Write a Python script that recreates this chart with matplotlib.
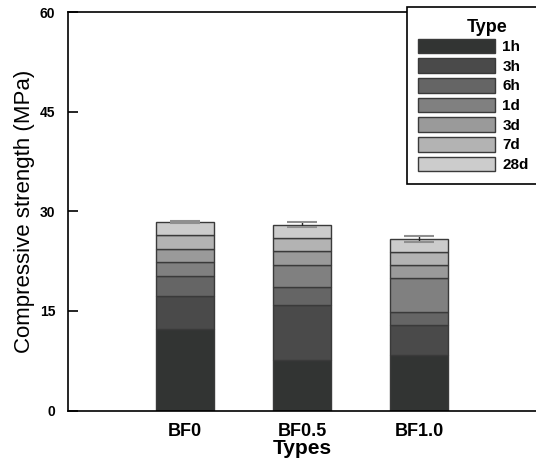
import matplotlib
matplotlib.use("Agg")
import matplotlib.pyplot as plt
import numpy as np

plt.rcParams['font.family'] = ['Liberation Sans', 'DejaVu Sans']

# data
types = ["BF0", "BF0.5", "BF1.0"]
ages = ["1h", "3h", "6h", "1d", "3d", "7d", "28d"]
# strength gained in each age interval (MPa), stacked
seg_1h = [12.3, 7.6, 8.3]
seg_3h = [4.9, 8.3, 4.5]
seg_6h = [3.1, 2.7, 2.0]
seg_1d = [2.0, 3.3, 5.1]
seg_3d = [2.0, 2.05, 2.0]
seg_7d = [2.05, 2.0, 1.95]
seg_28d = [2.05, 2.05, 1.95]
err_28d = [0.1, 0.35, 0.5]

colors = ["#323433", "#4a4a4a", "#656565", "#808080", "#9a9a9a", "#b3b3b3", "#cccccc"]

W, H = 536, 461
fig = plt.figure(figsize=(W / 100, H / 100), dpi=100)
ax = fig.add_axes([68 / W, 1 - 410.5 / H, (W - 68) / W, (410.5 - 12) / H])

x = np.arange(1, len(types) + 1)
segments = [seg_1h, seg_3h, seg_6h, seg_1d, seg_3d, seg_7d, seg_28d]
bottom = np.zeros(len(types))
for age, seg, col in zip(ages, segments, colors):
    ax.bar(x, seg, width=0.5, bottom=bottom, color=col,
           edgecolor="#3a3a3a", linewidth=1.0, label=age, zorder=2)
    bottom = bottom + np.array(seg)

eb = ax.errorbar(x, bottom, yerr=err_28d, fmt="none", ecolor="#222222",
                 elinewidth=1.0, capsize=11, capthick=1.5, zorder=3)
for cap in eb[1]:
    cap.set_markeredgecolor("#8f8f8f")

ax.set_xlim(0, 4)
ax.set_ylim(0, 60)
ax.set_xticks(x, labels=types)
ax.set_yticks([0, 15, 30, 45, 60])
ax.tick_params(axis="x", length=0, pad=9, labelsize=13)
ax.tick_params(axis="y", direction="in", length=7, width=1.2, pad=9, labelsize=10)
for lab in ax.get_xticklabels() + ax.get_yticklabels():
    lab.set_fontweight("bold")

ax.spines["right"].set_visible(False)
for s in ["left", "bottom", "top"]:
    ax.spines[s].set_linewidth(1.2)

ax.set_xlabel("Types", fontsize=15, fontweight="bold", labelpad=-1)
ax.set_ylabel("Compressive strength (MPa)", fontsize=16)
ax.yaxis.set_label_coords(-0.094, 0.5)
ax.yaxis.label.set_va("center")

leg = ax.legend(loc="upper left", bbox_to_anchor=(407 / W, 1 - 12 / H, 160 / W, 0.01),
                bbox_transform=fig.transFigure, mode="expand", borderaxespad=0,
                title="Type", title_fontproperties={"weight": "bold", "size": 13},
                prop={"weight": "bold", "size": 11}, handlelength=5.0,
                handleheight=1.1, labelspacing=0.27, handletextpad=0.5,
                borderpad=0.75, fancybox=False, framealpha=1)
leg.get_frame().set_edgecolor("black")
leg.get_frame().set_linewidth(1.2)
leg._legend_box.sep = 2

fig.savefig("out.png", dpi=100)
